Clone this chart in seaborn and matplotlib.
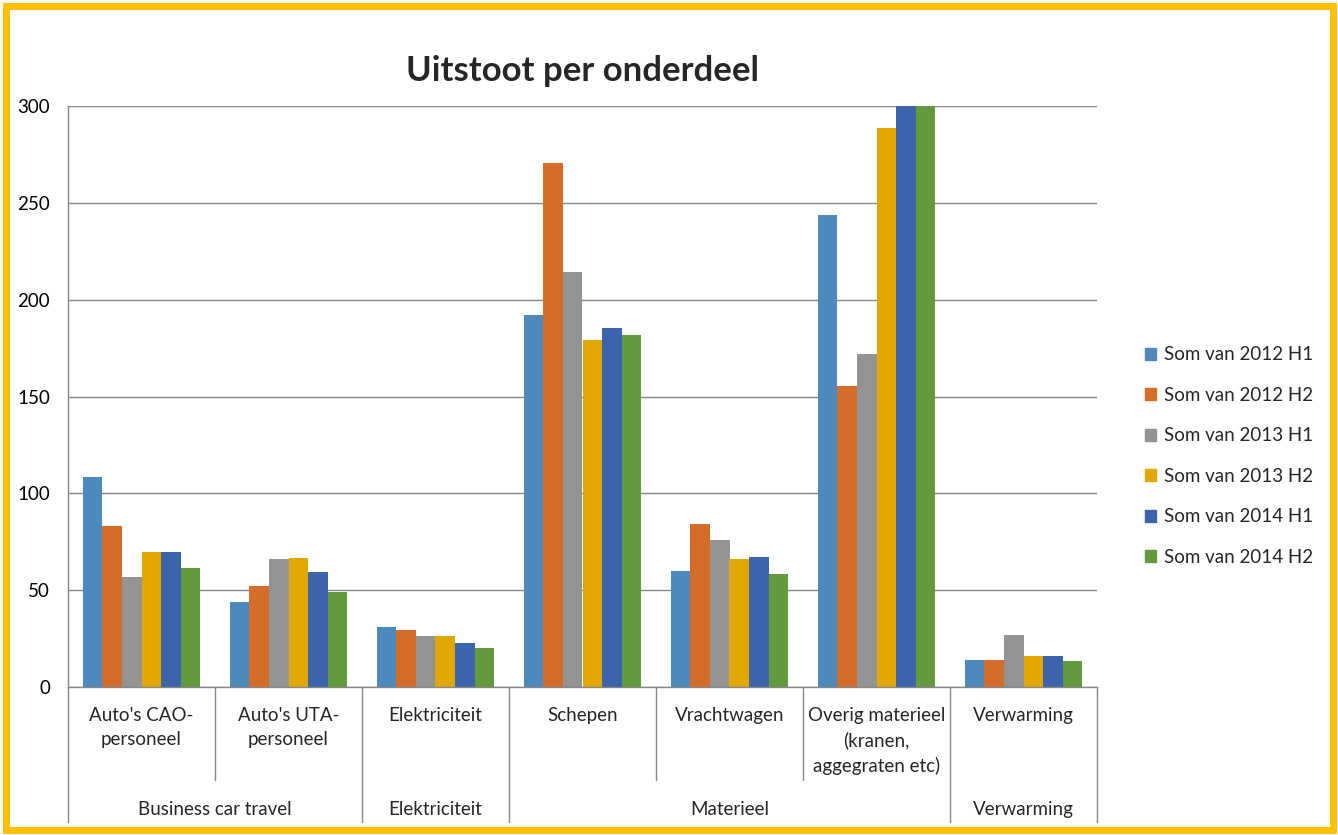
import pandas as pd
import matplotlib.pyplot as plt
import seaborn as sns
from matplotlib.patches import Rectangle

# categories (level 1) and their parent groups (level 2)
onderdelen = ["Auto's CAO-\npersoneel", "Auto's UTA-\npersoneel", "Elektriciteit", "Schepen",
              "Vrachtwagen", "Overig materieel\n(kranen,\naggegraten etc)", "Verwarming"]
groepen = ["Business car travel", "Elektriciteit", "Materieel", "Verwarming"]
groep_van = ["Business car travel", "Business car travel", "Elektriciteit", "Materieel",
             "Materieel", "Materieel", "Verwarming"]

series = ["Som van 2012 H1", "Som van 2012 H2", "Som van 2013 H1",
          "Som van 2013 H2", "Som van 2014 H1", "Som van 2014 H2"]
h1_2012 = [108.2, 44.1, 31.2, 192.1, 59.7, 243.9, 13.8]
h2_2012 = [83.0, 52.3, 29.6, 270.8, 84.2, 155.4, 13.8]
h1_2013 = [56.7, 66.1, 26.5, 214.3, 75.9, 171.8, 26.7]
h2_2013 = [69.6, 66.6, 26.4, 179.3, 66.0, 288.5, 15.8]
h1_2014 = [69.6, 59.6, 22.5, 185.2, 67.1, 315.0, 15.8]
h2_2014 = [61.3, 48.9, 20.1, 182.0, 58.2, 320.0, 13.4]

kleuren = ["#4E89BE", "#D46D2A", "#939393", "#E0A800", "#3C64AD", "#639A3E"]

rows = []
for s, vals in zip(series, [h1_2012, h2_2012, h1_2013, h2_2013, h1_2014, h2_2014]):
    for o, v in zip(onderdelen, vals):
        rows.append({"onderdeel": o, "serie": s, "waarde": v})
df = pd.DataFrame(rows)

sns.set_style("white")
plt.rcParams['font.family'] = ['Lato', 'DejaVu Sans']

fig = plt.figure(figsize=(13.38, 8.35), dpi=100)
ax = fig.add_axes([68 / 1338, 1 - 687 / 835, (1097 - 68) / 1338, (687 - 106) / 835])

sns.barplot(data=df, x="onderdeel", y="waarde", hue="serie", order=onderdelen,
            hue_order=series, palette=kleuren, saturation=1, errorbar=None, width=0.8,
            linewidth=0, ax=ax)

ax.set_ylim(0, 300)
ax.set_xlim(-0.5, len(onderdelen) - 0.5)
ax.set_yticks(range(0, 301, 50))
ax.yaxis.grid(True, color="#888888", linewidth=1)
ax.set_axisbelow(True)
ax.tick_params(axis="y", length=5, color="#888888", labelsize=13.5, pad=8, labelcolor="black")
ax.tick_params(axis="x", length=0, labelbottom=False)
ax.set_xlabel("")
ax.set_ylabel("")
for side in ["top", "right"]:
    ax.spines[side].set_visible(False)
for side in ["left", "bottom"]:
    ax.spines[side].set_color("#888888")
    ax.spines[side].set_linewidth(1)

# hierarchical x axis
trans = ax.get_xaxis_transform()
for i, o in enumerate(onderdelen):
    ax.text(i, -0.034, o, transform=trans, ha="center", va="top", fontsize=13.5, linespacing=1.5)

for g in groepen:
    idx = [i for i, gv in enumerate(groep_van) if gv == g]
    ax.text(sum(idx) / len(idx), -0.21, g, transform=trans, ha="center", va="center", fontsize=13.5)

for i in range(len(onderdelen) + 1):
    x = i - 0.5
    if i == 0 or i == len(onderdelen) or groep_van[i] != groep_van[i - 1]:
        y_end = -0.232
    else:
        y_end = -0.160
    ax.plot([x, x], [0, y_end], transform=trans, color="#888888", lw=1, clip_on=False)

ax.set_title("Uitstoot per onderdeel", fontsize=25, fontweight="bold", pad=18)

ax.get_legend().remove()
handles = [Rectangle((0, 0), 1, 1, color=c) for c in kleuren]
fig.legend(handles, series, loc="center left", bbox_to_anchor=(1128 / 1338, 1 - 456 / 835),
           frameon=False, fontsize=13.5, handlelength=0.6, handleheight=0.6,
           handletextpad=0.4, labelspacing=1.25)

# orange frame around the chart
fig.patches.append(Rectangle((6 / 1338, 5 / 835), 1 - 11 / 1338, 1 - 11 / 835,
                             transform=fig.transFigure, fill=False,
                             edgecolor="#FFC000", linewidth=5))

fig.savefig("out.png", dpi=100)
